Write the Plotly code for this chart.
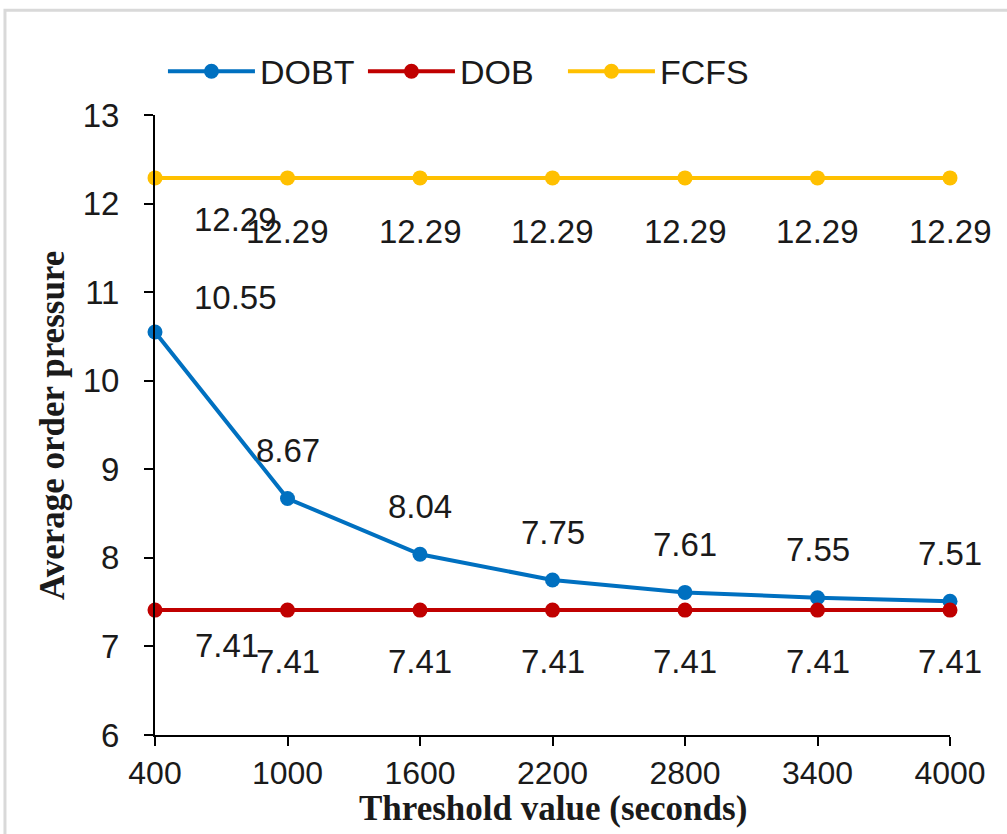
import plotly.graph_objects as go

thresholds = [400, 1000, 1600, 2200, 2800, 3400, 4000]
dobt = [10.55, 8.67, 8.04, 7.75, 7.61, 7.55, 7.51]
dob = [7.41, 7.41, 7.41, 7.41, 7.41, 7.41, 7.41]
fcfs = [12.29, 12.29, 12.29, 12.29, 12.29, 12.29, 12.29]
y_ticks = [6, 7, 8, 9, 10, 11, 12, 13]

colors = {"DOBT": "#0070C0", "DOB": "#C00000", "FCFS": "#FFC000"}
FONT = "Liberation Sans, Arial, sans-serif"
SERIF = "Liberation Serif, Times New Roman, serif"
FS = 33

fig = go.Figure()
for name, vals in [("DOBT", dobt), ("DOB", dob), ("FCFS", fcfs)]:
    fig.add_trace(go.Scatter(
        x=thresholds, y=vals, name=name, mode="lines+markers",
        line=dict(color=colors[name], width=4),
        marker=dict(color=colors[name], size=15),
        cliponaxis=False,
    ))

ann = []
for i, (xv, yv) in enumerate(zip(thresholds, dobt)):
    ann.append(dict(x=xv, y=yv, text=f"{yv:.2f}", showarrow=False,
                    xshift=80 if i == 0 else 0, yshift=35 if i == 0 else 48,
                    font=dict(size=FS, color="#1a1a1a", family=FONT)))
for i, (xv, yv) in enumerate(zip(thresholds, fcfs)):
    ann.append(dict(x=xv, y=yv, text=f"{yv:.2f}", showarrow=False,
                    xshift=80 if i == 0 else 0, yshift=-42 if i == 0 else -54,
                    font=dict(size=FS, color="#1a1a1a", family=FONT)))
for i, (xv, yv) in enumerate(zip(thresholds, dob)):
    ann.append(dict(x=xv, y=yv, text=f"{yv:.2f}", showarrow=False,
                    xshift=72 if i == 0 else 0, yshift=-35 if i == 0 else -51,
                    font=dict(size=FS, color="#1a1a1a", family=FONT)))

# axis titles
ann.append(dict(xref="paper", yref="paper", x=0.5, y=-0.119, xanchor="center", yanchor="middle",
                text="<b>Threshold value (seconds)</b>", showarrow=False,
                font=dict(size=35, family=SERIF, color="#1a1a1a")))
ann.append(dict(xref="paper", yref="paper", x=-0.1296, y=0.5, xanchor="center", yanchor="middle",
                text="<b>Average order pressure</b>", showarrow=False, textangle=-90,
                font=dict(size=35, family=SERIF, color="#1a1a1a")))

fig.update_layout(
    width=1007, height=834,
    margin=dict(l=155, r=57, t=115, b=99),
    paper_bgcolor="white", plot_bgcolor="white",
    font=dict(family=FONT, size=FS, color="#1a1a1a"),
    showlegend=True,
    legend=dict(orientation="h", x=0.01, y=1.07, xanchor="left", yanchor="middle",
                font=dict(size=34, family=FONT), itemwidth=87, entrywidth=98,
                bgcolor="rgba(0,0,0,0)"),
    annotations=ann,
    xaxis=dict(range=[400, 4000], tickvals=thresholds, ticktext=[str(t) for t in thresholds],
               showline=True, linecolor="black", linewidth=2, ticks="outside",
               ticklen=9, tickwidth=2, tickcolor="black", showgrid=False, zeroline=False,
               tickfont=dict(size=32, family=FONT)),
    yaxis=dict(range=[6, 13], tickvals=y_ticks,
               showline=True, linecolor="black", linewidth=2, ticks="outside",
               ticklen=9, tickwidth=2, tickcolor="black", showgrid=False, zeroline=False,
               ticklabelstandoff=18,
               tickfont=dict(size=FS, family=FONT)),
    shapes=[dict(type="rect", xref="paper", yref="paper",
                 x0=-0.1887, x1=1.2, y0=-0.3, y1=1.169,
                 line=dict(color="#d9d9d9", width=3), fillcolor="rgba(0,0,0,0)", layer="below")],
)

fig.write_html("out.html")
